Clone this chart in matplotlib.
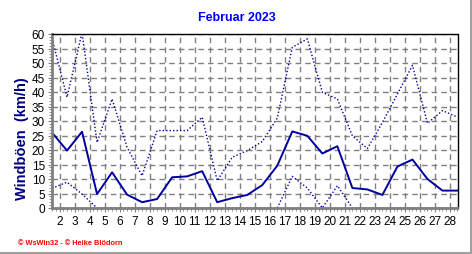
import numpy as np
import matplotlib
matplotlib.use("Agg")
from matplotlib import pyplot as plt
from matplotlib.lines import Line2D
from matplotlib.ticker import MultipleLocator

plt.rcParams['font.family'] = ['Liberation Sans', 'DejaVu Sans']

# daily wind gusts February 2023 (km/h)
days = np.arange(1, 29)
gust_max = [58.5, 38.2, 60.5, 22.6, 37.6, 20.9, 11.1, 26.7, 26.7, 26.7,
            31.3, 9.4, 17.5, 19.8, 22.9, 31.0, 55.4, 58.3, 39.9, 37.6,
            24.9, 20.5, 29.5, 39.3, 49.2, 29.2, 33.6, 31.3]
gust_mean = [26.0, 19.8, 26.3, 4.8, 12.3, 4.6, 2.0, 3.1, 10.6, 10.9,
             12.7, 2.0, 3.4, 4.5, 7.9, 14.6, 26.4, 24.9, 18.8, 21.3,
             6.9, 6.4, 4.5, 14.3, 16.7, 10.0, 6.0, 6.0]
gust_min = [6.8, 8.9, 4.8, 0, 0, 0, 0, 0, 0, 0,
            0, 0, 0, 0, 0, 0, 10.9, 6.9, 0, 7.7,
            0, 0, 0, 0, 0, 0, 0, 0]
tick_days = list(range(2, 29))

navy = '#0000a0'

fig = plt.figure(figsize=(4.72, 2.55), dpi=100)
ax = fig.add_axes([52 / 472, 1 - 209 / 255, 405.5 / 472, 174 / 255])

x = days + 0.5
ax.plot(x, gust_max, color=navy, lw=1.0, ls=(0, (1, 1.5)))
ax.plot(x, gust_mean, color=navy, lw=1.4)
ax.plot(x, gust_min, color=navy, lw=1.0, ls=(0, (1, 1.5)))

ax.set_xlim(1.5, 28.5)
ax.set_ylim(0, 60)
ax.set_xticks(tick_days)
ax.set_xticklabels([str(d) for d in tick_days])
ax.set_yticks(range(0, 61, 5))
ax.xaxis.set_minor_locator(MultipleLocator(0.25))
ax.yaxis.set_minor_locator(MultipleLocator(1))
ax.grid(True, which='major', color='#808080', ls=(0, (4, 3)), lw=1)
ax.tick_params(which='major', direction='out', length=3, color='#808080',
               labelsize=8.5, pad=2)
ax.tick_params(which='minor', direction='out', length=2, color='#808080')

for side in ('left', 'bottom'):
    ax.spines[side].set_color('#808080')
    ax.spines[side].set_linewidth(2)
for side in ('top', 'right'):
    ax.spines[side].set_color('black')
    ax.spines[side].set_linewidth(1)

fig.text(22.5 / 472, 1 - 139 / 255, 'Windböen  (km/h)', color='#000080',
         fontsize=10.5, fontweight='bold', rotation=90, ha='center', va='center')
fig.text(0.502, 1 - 18 / 255, 'Februar 2023', color='#0000ff', fontsize=9,
         fontweight='bold', ha='center', va='center')
fig.text(18 / 472, 1 - 244 / 255, '© WsWin32 - © Heike Blödorn', color='red',
         fontsize=5.3, fontweight='bold', ha='left', va='center')

# grey frame edge at right and bottom
fig.add_artist(Line2D([0, 470.5 / 472], [1.5 / 255, 1.5 / 255], color='#a0a0a0', lw=1.5))
fig.add_artist(Line2D([470.5 / 472, 470.5 / 472], [1.5 / 255, 1], color='#a0a0a0', lw=1.5))

fig.savefig('out.png', dpi=100)
